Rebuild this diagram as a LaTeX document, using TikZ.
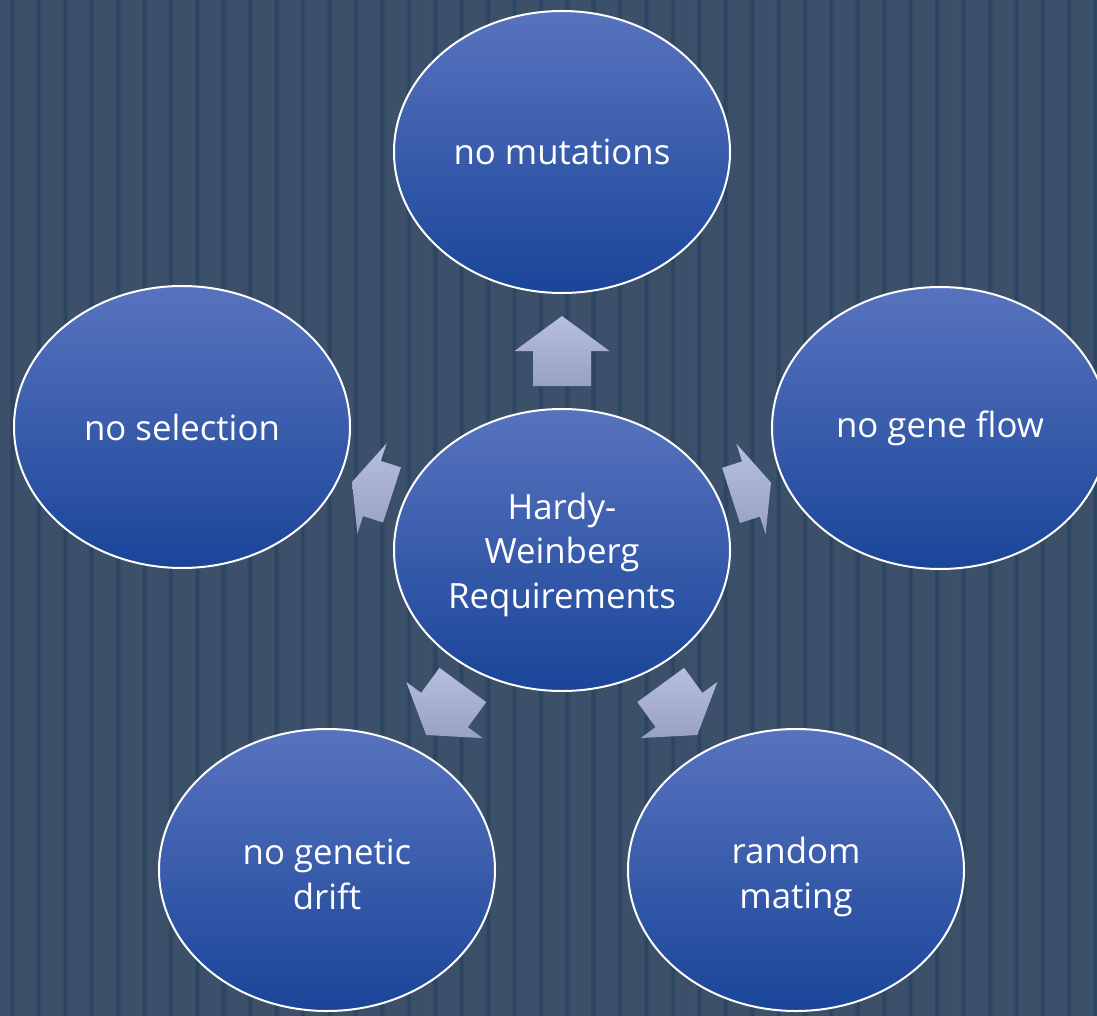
\documentclass[tikz,border=0pt]{standalone}
\usepackage{fontspec}
\setmainfont{Open Sans}
\usetikzlibrary{shapes.geometric,calc}
\definecolor{bgc}{HTML}{3C5069}
\definecolor{stripec}{HTML}{29435F}
\definecolor{elltop}{HTML}{5873BE}
\definecolor{ellbot}{HTML}{1A4599}
\definecolor{arrtop}{HTML}{B7BFDF}
\definecolor{arrbot}{HTML}{98A1C2}
\tikzset{
  req/.style={ellipse, minimum width=336pt, minimum height=282pt, inner sep=0pt,
    top color=elltop, bottom color=ellbot, draw=white, line width=2pt,
    text=white, align=center, font=\fontsize{34.8}{44.5}\selectfont},
  arrowshade/.style={top color=arrtop, bottom color=arrbot, draw=none}
}
\newcommand\blockarrow[3]{%
  \path ($(#1)!0.5!(#2)$) coordinate (am)
        ($(am)!-#3!(#2)$) coordinate (ab)
        ($(am)!#3!(#2)$) coordinate (at);
  \shade[arrowshade] ($(ab)!29pt!90:(#2)$) -- ($(am)!29pt!90:(#2)$) -- ($(am)!47.5pt!90:(#2)$)
    -- (at) -- ($(am)!47.5pt!-90:(#2)$) -- ($(am)!29pt!-90:(#2)$) -- ($(ab)!29pt!-90:(#2)$) -- cycle;}
\begin{document}
\begin{tikzpicture}[x=1pt,y=-1pt]
\useasboundingbox (0,0) rectangle (1097,1016);
\clip (0,0) rectangle (1097,1016);
\fill[bgc] (0,0) rectangle (1097,1016);
\foreach \k in {0,...,41}{
  \pgfmathsetmacro\sx{12+26.42*\k}
  \shade[left color=bgc, right color=bgc, middle color=stripec] (\sx-3.5,0) rectangle (\sx+3.5,1016);
}
\node[req] (hw) at (562,550) {\rule{0pt}{35.5pt}Hardy-\\Weinberg\\Requirements};
\node[req] (top) at (562,152) {no mutations};
\node[req] (right) at (940,428) {no gene flow};
\node[req] (bright) at (796,870) {\rule{0pt}{40.5pt}random\\mating};
\node[req] (bleft) at (327,870) {\rule{0pt}{34.5pt}no genetic\\drift};
\node[req] (left) at (182,427) {no selection};
\blockarrow{hw}{top}{35pt}
\blockarrow{hw}{right}{21pt}
\blockarrow{hw}{bright}{31pt}
\blockarrow{hw}{bleft}{31pt}
\blockarrow{hw}{left}{21pt}
\end{tikzpicture}
\end{document}
